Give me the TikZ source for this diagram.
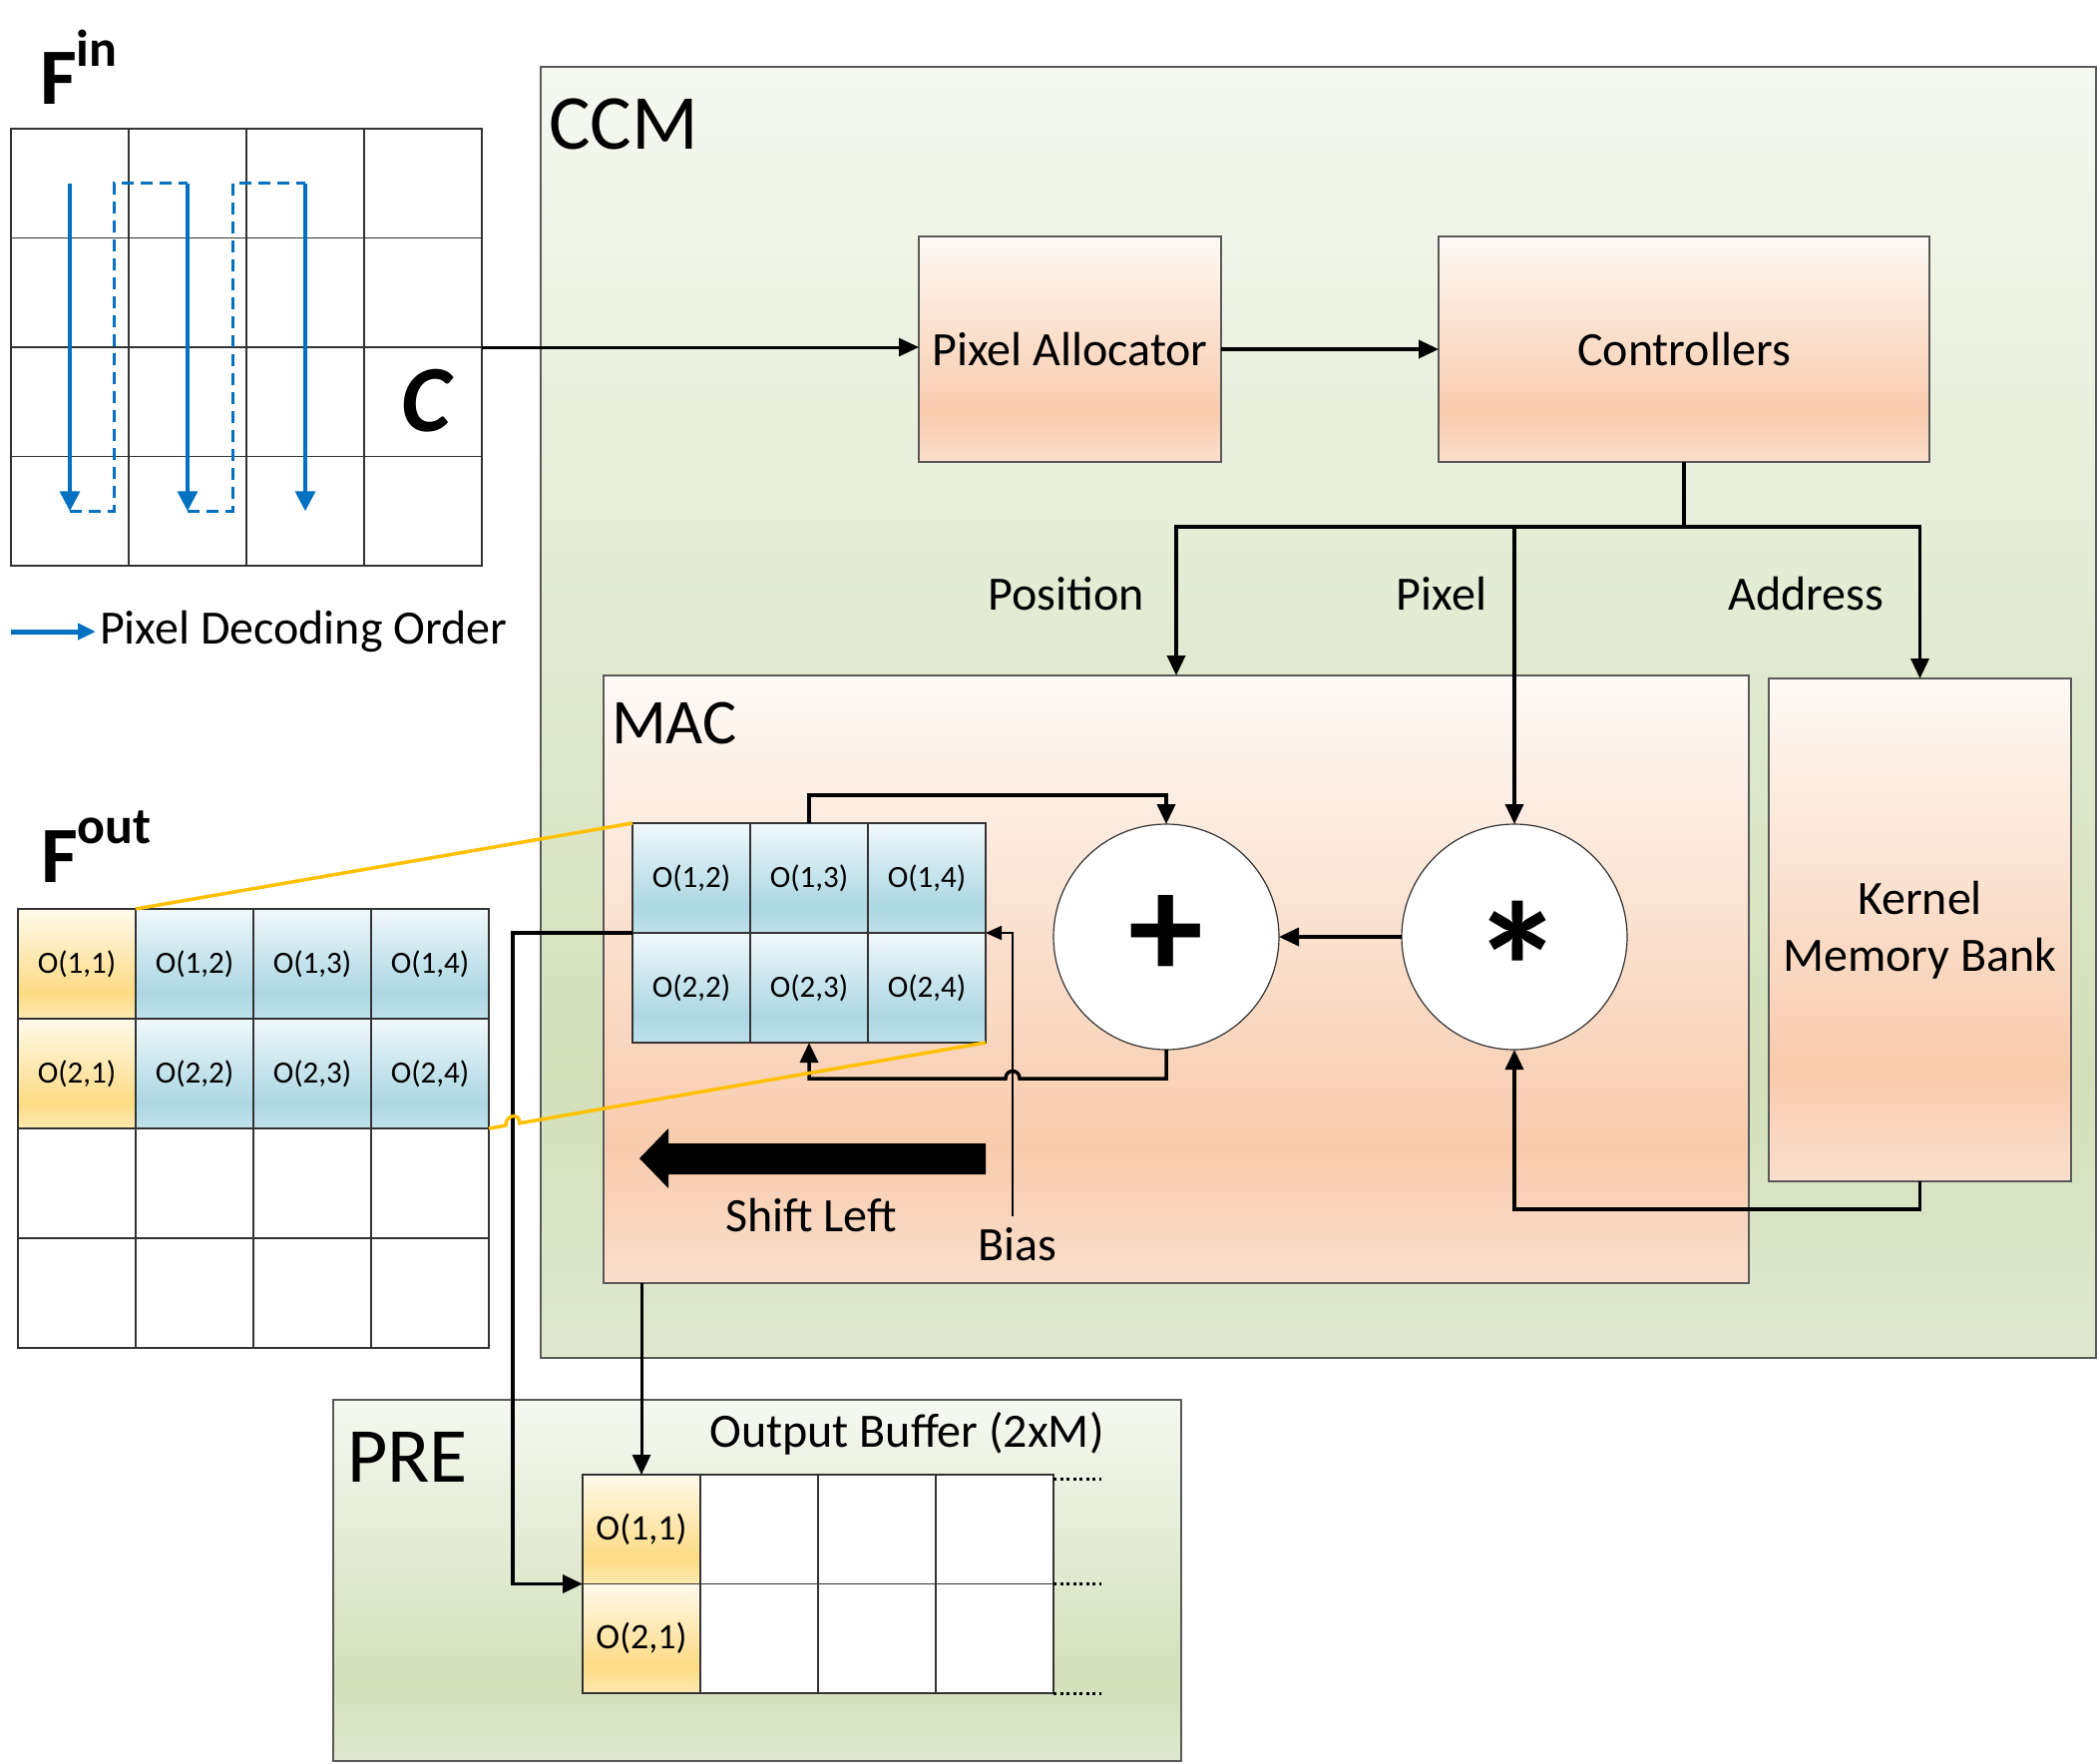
\documentclass[tikz,border=0pt]{standalone}
\usepackage{fontspec}
\setmainfont{Carlito}
\usetikzlibrary{arrows.meta,calc}
\definecolor{gTop}{HTML}{F5F8F0}
\definecolor{gMid}{HTML}{D3E0BA}
\definecolor{gBot}{HTML}{DFE8CF}
\definecolor{oTop}{HTML}{FEFAF6}
\definecolor{oMid}{HTML}{F8CBAD}
\definecolor{oBot}{HTML}{FADFCC}
\definecolor{bTop}{HTML}{F0F8FB}
\definecolor{bMid}{HTML}{ACD7E3}
\definecolor{bBot}{HTML}{C0E1EA}
\definecolor{yTop}{HTML}{FFFAEB}
\definecolor{yMid}{HTML}{FDDB85}
\definecolor{yBot}{HTML}{FEE9B0}
\definecolor{arrowblue}{HTML}{0070C0}
\definecolor{linkorange}{HTML}{FFC000}
\pgfdeclareverticalshading{greensh}{100bp}{color(0bp)=(gBot); color(25bp)=(gBot); color(36bp)=(gMid); color(75bp)=(gTop); color(100bp)=(gTop)}
\pgfdeclareverticalshading{orangesh}{100bp}{color(0bp)=(oBot); color(25bp)=(oBot); color(36bp)=(oMid); color(75bp)=(oTop); color(100bp)=(oTop)}
\pgfdeclareverticalshading{bluesh}{100bp}{color(0bp)=(bBot); color(25bp)=(bBot); color(37bp)=(bMid); color(75bp)=(bTop); color(100bp)=(bTop)}
\pgfdeclareverticalshading{yellowsh}{100bp}{color(0bp)=(yBot); color(25bp)=(yBot); color(37bp)=(yMid); color(75bp)=(yTop); color(100bp)=(yTop)}
\newcommand{\fsz}[1]{\fontsize{#1}{#1}\selectfont}
\begin{document}
\begin{tikzpicture}[x=1pt,y=-1pt,
  every node/.style={inner sep=0pt, outer sep=0pt},
  frame/.style={draw=black!65, line width=1.5pt},
  greenbox/.style={frame, shading=greensh},
  orangebox/.style={frame, shading=orangesh},
  cell/.style={draw=black!80, line width=1.3pt, minimum width=118pt},
  lbl/.style={font=\fsz{48}},
  opcircle/.style={circle, draw=black!80, line width=1.2pt, fill=white, minimum size=226pt},
  conn/.style={line width=3.5pt, -{Triangle[length=20pt,width=18pt]}},
  biasconn/.style={line width=2pt, -{Triangle[length=16pt,width=14pt]}},
  bluesolid/.style={arrowblue, line width=3.5pt, -{Triangle[length=20pt,width=20pt]}},
  bluedash/.style={arrowblue, line width=3pt, dash pattern=on 12pt off 7pt},
  orangeln/.style={linkorange, line width=3.5pt},
  dotln/.style={line width=3pt, dash pattern=on 3pt off 3.5pt}
]
\useasboundingbox (0,0) rectangle (2103,1767);
\fill[white] (0,0) rectangle (2103,1767);

% ---- big frames ----
\node[greenbox, minimum width=1559pt, minimum height=1294pt] (ccm) at (1321.5,714) {};
\node[greenbox, minimum width=850pt, minimum height=362pt] (pre) at (759,1584) {};
\node[orangebox, minimum width=303pt, minimum height=226pt, lbl] (pa) at (1072.5,350) {Pixel Allocator};
\node[orangebox, minimum width=492pt, minimum height=226pt, lbl] (ctrl) at (1688,350) {Controllers};
\node[orangebox, minimum width=1148pt, minimum height=609pt] (mac) at (1179,981.5) {};
\node[orangebox, minimum width=303pt, minimum height=504pt, align=center, font=\fontsize{48}{57}\selectfont] (kmb) at (1924.5,932) {Kernel\\Memory Bank};

\node[anchor=west, font=\fsz{78}] (ccmlbl) at (550,124) {CCM};
\node[anchor=west, font=\fsz{64}] (maclbl) at (613,725) {MAC};
\node[anchor=west, font=\fsz{78}] (prelbl) at (348,1460) {PRE};
\node[lbl] (oblbl) at (909,1437) {Output Buffer (2xM)};

% ---- F^in grid ----
\node[anchor=base west, font=\fsz{80}\bfseries] (finlbl) at (40,104) {F\raisebox{38pt}{\fsz{52}in}};
\foreach \r in {1,...,4}{
  \foreach \c in {1,...,4}{
    \node[cell, fill=white, minimum height=109.5pt] (fin-\r-\c) at ({11+(\c-0.5)*118},{129+(\r-0.5)*109.5}) {};
  }
}
\node[font=\fsz{95}\bfseries\itshape] (cmark) at (427,402) {C};

% ---- F^out grid ----
\node[anchor=base west, font=\fsz{80}\bfseries] (foutlbl) at (41,884) {F\raisebox{39pt}{\fsz{52}out}};
\foreach \r in {1,2}{
  \node[cell, minimum height=110pt, shading=yellowsh, font=\fsz{31}] (fout-\r-1) at (77,{911+(\r-0.5)*110}) {O(\r,1)};
  \foreach \c in {2,3,4}{
    \node[cell, minimum height=110pt, shading=bluesh, font=\fsz{31}] (fout-\r-\c) at ({18+(\c-0.5)*118},{911+(\r-0.5)*110}) {O(\r,\c)};
  }
}
\foreach \r in {3,4}{
  \foreach \c in {1,...,4}{
    \node[cell, minimum height=110pt, fill=white] (fout-\r-\c) at ({18+(\c-0.5)*118},{911+(\r-0.5)*110}) {};
  }
}

% ---- MAC register grid ----
\foreach \r in {1,2}{
  \foreach \c in {2,3,4}{
    \node[cell, minimum height=110pt, shading=bluesh, font=\fsz{31}] (mac-\r-\c) at ({634+(\c-1.5)*118},{825+(\r-0.5)*110}) {O(\r,\c)};
  }
}

% ---- output buffer ----
\foreach \r in {1,2}{
  \node[cell, minimum height=109.5pt, shading=yellowsh, font=\fsz{36}] (buf-\r-1) at (643,{1478+(\r-0.5)*109.5}) {O(\r,1)};
  \foreach \c in {2,3,4}{
    \node[cell, minimum height=109.5pt, fill=white] (buf-\r-\c) at ({584+(\c-0.5)*118},{1478+(\r-0.5)*109.5}) {};
  }
}
\draw[dotln] ([yshift=-4pt]buf-1-4.north east) -- ++(48,0);
\draw[dotln] (buf-1-4.south east) -- ++(48,0);
\draw[dotln] (buf-2-4.south east) -- ++(48,0);

% ---- operators ----
\node[opcircle, font=\fsz{150}\bfseries] (plus) at (1169,939) {\raisebox{-0.3em}{+}};
\node[opcircle, font=\fsz{185}\bfseries, text height=0pt, text depth=0pt] (star) at (1518,939) {\hspace*{8pt}\raisebox{-96pt}{*}};

% ---- labels ----
\node[lbl, anchor=east] (poslbl) at (1147,595) {Position};
\node[lbl, anchor=east] (pixlbl) at (1490,595) {Pixel};
\node[lbl, anchor=east] (addrlbl) at (1888,595) {Address};
\node[lbl] (shiftlbl) at (813,1218) {Shift Left};
\node[lbl] (biaslbl) at (1020,1247) {Bias};
\node[lbl, anchor=west] (legend) at (100,633) {Pixel Decoding Order};

% ---- decoding order arrows ----
\draw[bluedash] (fin-4-1.center) -- ++(44,0) |- (fin-1-2.center);
\draw[bluedash] (fin-4-2.center) -- ++(45,0) |- (fin-1-3.center);
\draw[bluesolid] (fin-1-1.center) -- (fin-4-1.center);
\draw[bluesolid] (fin-1-2.center) -- (fin-4-2.center);
\draw[bluesolid] (fin-1-3.center) -- (fin-4-3.center);
\coordinate (legA) at (11,633);
\draw[arrowblue, line width=5pt, -{Triangle[length=18pt,width=16pt]}] (legA) -- ([xshift=-4pt]legend.west);

% ---- CCM data path ----
\draw[conn, line width=3pt] (fin-2-4.south east) -- (fin-2-4.south east -| pa.west);
\draw[conn] (pa.east) -- (ctrl.west);
\coordinate (busL) at (1179,528);
\draw[conn] (ctrl.south) -- (ctrl.south |- busL) -- (busL) -- (mac.north);
\draw[conn] (ctrl.south |- busL) -- (busL -| kmb.north) -- (kmb.north);
\draw[conn] (busL -| star.north) -- (star.north);

% ---- MAC internals ----
\draw[conn] (star.west) -- (plus.east);
\draw[conn] (kmb.south) -- ++(0,28) -| (star.south);
\draw[conn] (mac-1-3.north) -- ++(0,-28) -| (plus.north);
\coordinate (biasft) at (1015,1219);
\coordinate (fbc) at ($(plus.south)+(0,29)$);
\coordinate (fb1) at ($(fbc -| biasft)+(7,0)$);
\coordinate (fb2) at ($(fbc -| biasft)+(-7,0)$);
\draw[conn] (plus.south) -- (fbc) -- (fb1) .. controls ([yshift=10pt]fb1) and ([yshift=10pt]fb2) .. (fb2) -- (fb2 -| mac-2-3.south) -- (mac-2-3.south);
\draw[biasconn] (biasft) -- (biasft |- mac-1-4.south east) -- (mac-1-4.south east);
\fill (988,1146) -- (670,1146) -- (670,1131) -- (641,1161) -- (670,1191) -- (670,1177) -- (988,1177) -- cycle;

% ---- to output buffer ----
\draw[conn, line width=3pt] (mac.south -| buf-1-1.north) -- (buf-1-1.north);
\draw[conn] (mac-1-2.south west) -- ++(-120,0) |- (buf-2-1.north west);

% ---- orange correspondence lines ----
\draw[orangeln] (fout-1-1.north east) -- (mac-1-2.north west);
\coordinate (h1) at ($(fout-2-4.south east)!0.034!(mac-2-4.south east)$);
\coordinate (h2) at ($(fout-2-4.south east)!0.062!(mac-2-4.south east)$);
\draw[orangeln] (fout-2-4.south east) -- (h1) .. controls ([yshift=11pt]h1) and ([yshift=11pt]h2) .. (h2) -- (mac-2-4.south east);
\end{tikzpicture}
\end{document}
